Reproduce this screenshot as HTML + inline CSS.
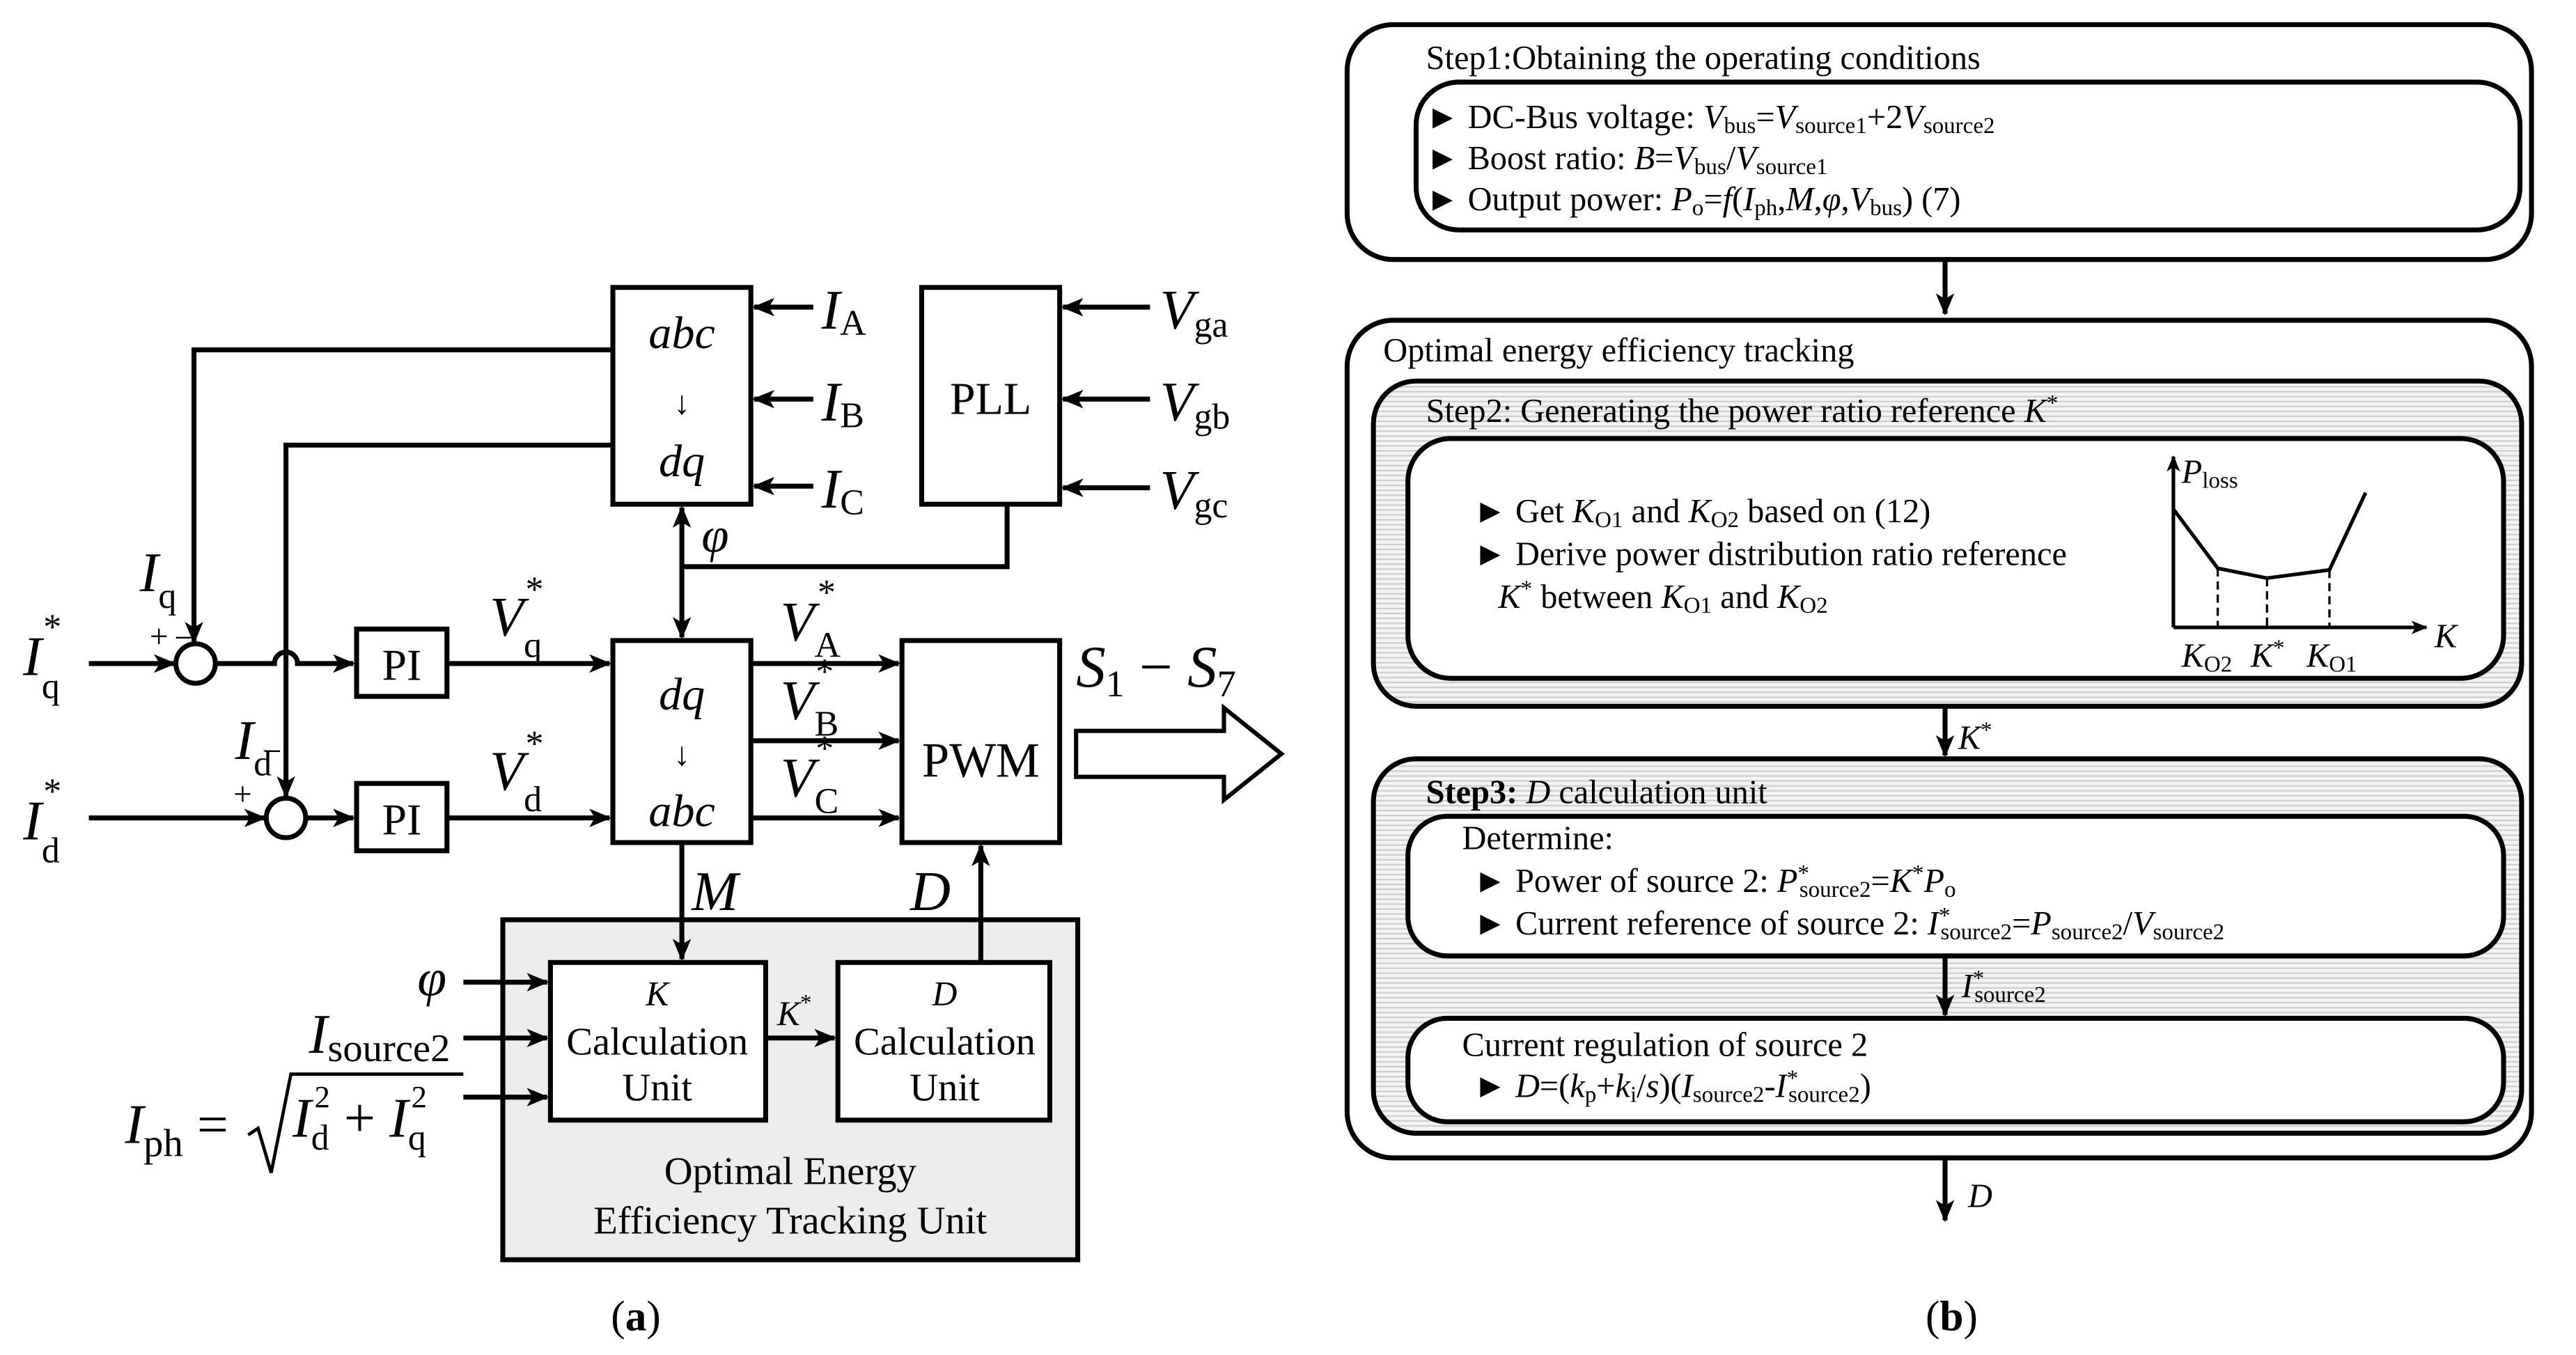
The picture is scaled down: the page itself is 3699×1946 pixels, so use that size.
<!DOCTYPE html>
<html><head><meta charset="utf-8"><style>
html,body{margin:0;padding:0;background:#fff;}
svg{display:block;}
svg text{font-family:"Liberation Serif","Noto Serif CJK SC","DejaVu Serif",serif;fill:#000;}
.i{font-style:italic;}
</style></head><body>
<svg width="3699" height="1946" viewBox="0 0 1568 825" xmlns="http://www.w3.org/2000/svg" font-family="Liberation Serif, Noto Serif CJK SC, DejaVu Serif, serif">
<defs>
<marker id="ah" viewBox="0 0 12 10" refX="11" refY="5" markerWidth="4.5" markerHeight="4.2" orient="auto-start-reverse"><path d="M0,0 L12,5 L0,10 L3,5 z" fill="#000"/></marker>
<pattern id="hat" width="4" height="3" patternUnits="userSpaceOnUse"><rect width="4" height="3" fill="#f4f4f4"/><rect width="4" height="1" y="1" fill="#cfcfcf"/></pattern>
</defs>
<g stroke="#000" stroke-width="3" fill="none">
<rect x="373" y="175" width="84" height="132" fill="#fff"/>
<rect x="561" y="175" width="84" height="132" fill="#fff"/>
<rect x="373" y="390" width="84" height="123" fill="#fff"/>
<rect x="549" y="390" width="96" height="123" fill="#fff"/>
<rect x="217" y="383" width="55" height="41" fill="#fff"/>
<rect x="217" y="477" width="55" height="41" fill="#fff"/>
<rect x="306" y="560" width="350" height="207" fill="#ececec"/>
<rect x="335" y="586" width="131" height="96" fill="#fff"/>
<rect x="510" y="586" width="129" height="96" fill="#fff"/>
<circle cx="119" cy="404" r="12" fill="#fff"/>
<circle cx="174" cy="498" r="12" fill="#fff"/>
<line x1="495" y1="187" x2="459" y2="187" marker-end="url(#ah)"/>
<line x1="495" y1="243" x2="459" y2="243" marker-end="url(#ah)"/>
<line x1="495" y1="296" x2="459" y2="296" marker-end="url(#ah)"/>
<line x1="700" y1="187" x2="647" y2="187" marker-end="url(#ah)"/>
<line x1="700" y1="243" x2="647" y2="243" marker-end="url(#ah)"/>
<line x1="700" y1="297" x2="647" y2="297" marker-end="url(#ah)"/>
<polyline points="613,307 613,345 415,345"/>
<line x1="415" y1="309" x2="415" y2="388" marker-start="url(#ah)" marker-end="url(#ah)"/>
<polyline points="373,213 118,213 118,391" marker-end="url(#ah)"/>
<polyline points="373,271 174,271 174,485" marker-end="url(#ah)"/>
<line x1="54" y1="404" x2="106" y2="404" marker-end="url(#ah)"/>
<path d="M131,404 L167,404 A7,7 0 0 1 181,404 L215,404" marker-end="url(#ah)"/>
<line x1="272" y1="404" x2="371" y2="404" marker-end="url(#ah)"/>
<line x1="54" y1="498" x2="161" y2="498" marker-end="url(#ah)"/>
<line x1="186" y1="498" x2="215" y2="498" marker-end="url(#ah)"/>
<line x1="272" y1="498" x2="371" y2="498" marker-end="url(#ah)"/>
<line x1="457" y1="404" x2="547" y2="404" marker-end="url(#ah)"/>
<line x1="457" y1="451" x2="547" y2="451" marker-end="url(#ah)"/>
<line x1="457" y1="498" x2="547" y2="498" marker-end="url(#ah)"/>
<polygon points="655,445 745,445 745,431 780,459 745,487 745,473 655,473" fill="#fff" stroke-width="2.6"/>
<line x1="415" y1="513" x2="415" y2="584" marker-end="url(#ah)"/>
<line x1="597" y1="586" x2="597" y2="515" marker-end="url(#ah)"/>
<line x1="466" y1="632" x2="508" y2="632" marker-end="url(#ah)"/>
<line x1="282" y1="598" x2="333" y2="598" marker-end="url(#ah)"/>
<line x1="282" y1="632" x2="333" y2="632" marker-end="url(#ah)"/>
<line x1="282" y1="668" x2="333" y2="668" marker-end="url(#ah)"/>
<polyline points="151,691 157,687 165,714 177,654 282,654" stroke-width="2"/>

<rect x="820" y="15" width="721" height="143" rx="28"/>
<rect x="862" y="50" width="672" height="90" rx="26" fill="#fff"/>
<line x1="1184" y1="158" x2="1184" y2="191" marker-end="url(#ah)"/>
<rect x="820" y="195" width="721" height="510" rx="28"/>
<rect x="836" y="232" width="699" height="198" rx="26" fill="url(#hat)"/>
<rect x="857" y="267" width="667" height="146" rx="26" fill="#fff"/>
<line x1="1184" y1="430" x2="1184" y2="460" marker-end="url(#ah)"/>
<rect x="836" y="462" width="699" height="228" rx="26" fill="url(#hat)"/>
<rect x="857" y="497" width="667" height="85" rx="24" fill="#fff"/>
<line x1="1184" y1="582" x2="1184" y2="618" marker-end="url(#ah)"/>
<rect x="857" y="620" width="667" height="63" rx="24" fill="#fff"/>
<line x1="1184" y1="705" x2="1184" y2="743" marker-end="url(#ah)"/>
<line x1="1323" y1="382" x2="1323" y2="278" marker-end="url(#ah)" stroke-width="2.2"/>
<line x1="1323" y1="382" x2="1477" y2="382" marker-end="url(#ah)" stroke-width="2.2"/>
<polyline points="1323,310 1350,346 1380,352 1418,347 1440,300" stroke-width="2.2"/>
<g stroke-dasharray="5,3" stroke-width="1.4">
<line x1="1350" y1="346" x2="1350" y2="382"/><line x1="1380" y1="352" x2="1380" y2="382"/><line x1="1418" y1="347" x2="1418" y2="382"/>
</g>
</g>

<g font-size="28" text-anchor="middle">
<text x="415" y="212" class="i">abc</text>
<text x="415" y="252" font-size="20">↓</text>
<text x="415" y="290" class="i">dq</text>
<text x="603" y="252">PLL</text>
<text x="415" y="432" class="i">dq</text>
<text x="415" y="466" font-size="20">↓</text>
<text x="415" y="503" class="i">abc</text>
<text x="597" y="473" font-size="30">PWM</text>
<text x="244.5" y="414" font-size="27">PI</text>
<text x="244.5" y="508" font-size="27">PI</text>
</g>
<g font-size="34">
<text x="500" y="200" class="i">I<tspan font-size="22" font-style="normal" dy="4">A</tspan></text>
<text x="500" y="256" class="i">I<tspan font-size="22" font-style="normal" dy="4">B</tspan></text>
<text x="500" y="309" class="i">I<tspan font-size="22" font-style="normal" dy="4">C</tspan></text>
<text x="706" y="200" class="i">V<tspan font-size="22" font-style="normal" dy="5">ga</tspan></text>
<text x="706" y="256" class="i">V<tspan font-size="22" font-style="normal" dy="5">gb</tspan></text>
<text x="706" y="310" class="i">V<tspan font-size="22" font-style="normal" dy="5">gc</tspan></text>
<text x="427" y="336" class="i" font-size="30">φ</text>
<text x="85" y="360" class="i">I<tspan font-size="22" font-style="normal" dy="10">q</tspan></text>
<text x="143" y="462" class="i">I<tspan font-size="22" font-style="normal" dy="10">d</tspan></text>
<text x="14" y="411" class="i">I<tspan font-size="22" font-style="normal" dy="14">q</tspan><tspan font-size="22" font-style="normal" dx="-10" dy="-36">*</tspan></text>
<text x="14" y="511" class="i">I<tspan font-size="22" font-style="normal" dy="14">d</tspan><tspan font-size="22" font-style="normal" dx="-10" dy="-36">*</tspan></text>
<text x="298" y="387" class="i">V<tspan font-size="22" font-style="normal" dy="13">q</tspan><tspan font-size="22" font-style="normal" dx="-10" dy="-34">*</tspan></text>
<text x="298" y="481" class="i">V<tspan font-size="22" font-style="normal" dy="13">d</tspan><tspan font-size="22" font-style="normal" dx="-10" dy="-34">*</tspan></text>
<text x="475" y="390" class="i">V<tspan font-size="22" font-style="normal" dy="10">A</tspan><tspan font-size="22" font-style="normal" dx="-14" dy="-32">*</tspan></text>
<text x="475" y="438" class="i">V<tspan font-size="22" font-style="normal" dy="10">B</tspan><tspan font-size="22" font-style="normal" dx="-14" dy="-32">*</tspan></text>
<text x="475" y="485" class="i">V<tspan font-size="22" font-style="normal" dy="10">C</tspan><tspan font-size="22" font-style="normal" dx="-14" dy="-32">*</tspan></text>
<text x="655" y="418" class="i" font-size="36">S<tspan font-size="23" font-style="normal" dy="6">1</tspan><tspan dy="-6" font-style="normal"> − </tspan>S<tspan font-size="23" font-style="normal" dy="6">7</tspan></text>
<text x="421" y="554" class="i">M</text>
<text x="554" y="554" class="i">D</text>
<text x="254" y="606" class="i" font-size="32">φ</text>
<text x="188" y="641" class="i">I<tspan font-size="24" font-style="normal" dy="5">source2</tspan></text>
<text x="76" y="696" class="i">I<tspan font-size="24" font-style="normal" dy="8">ph</tspan><tspan font-style="normal" dy="-8"> = </tspan></text>
<text x="178" y="692" class="i">I<tspan font-size="22" font-style="normal" dy="8">d</tspan><tspan font-size="19" font-style="normal" dx="-9" dy="-26">2</tspan><tspan font-style="normal" dy="18"> + </tspan>I<tspan font-size="22" font-style="normal" dy="8">q</tspan><tspan font-size="19" font-style="normal" dx="-9" dy="-26">2</tspan></text>
</g>
<text x="91" y="394" font-size="20">+</text>
<text x="106" y="395" font-size="20">−</text>
<text x="142" y="490" font-size="20">+</text>
<text x="160" y="464" font-size="20">−</text>
<g font-size="24" text-anchor="middle">
<text x="400" y="612" class="i" font-size="21">K</text>
<text x="400" y="642">Calculation</text>
<text x="400" y="670">Unit</text>
<text x="575" y="612" class="i" font-size="21">D</text>
<text x="575" y="642">Calculation</text>
<text x="575" y="670">Unit</text>
<text x="481" y="721">Optimal Energy</text>
<text x="481" y="751">Efficiency Tracking Unit</text>
<text x="387" y="810" font-size="26">(<tspan font-weight="bold">a</tspan>)</text>
<text x="1188" y="810" font-size="26">(<tspan font-weight="bold">b</tspan>)</text>
</g>
<text x="473" y="624" font-size="21" class="i">K<tspan font-size="14" dy="-9" font-style="normal">*</tspan></text>

<g font-size="20.5">
<text x="868" y="42">Step1:Obtaining the operating conditions</text>
<text x="868" y="78">► DC-Bus voltage: <tspan class="i">V</tspan><tspan font-size="14" dy="3">bus</tspan><tspan dy="-3">=</tspan><tspan class="i">V</tspan><tspan font-size="14" dy="3">source1</tspan><tspan dy="-3">+2</tspan><tspan class="i">V</tspan><tspan font-size="14" dy="3">source2</tspan></text>
<text x="868" y="103">► Boost ratio: <tspan class="i">B</tspan>=<tspan class="i">V</tspan><tspan font-size="14" dy="3">bus</tspan><tspan dy="-3">/</tspan><tspan class="i">V</tspan><tspan font-size="14" dy="3">source1</tspan></text>
<text x="868" y="128">► Output power: <tspan class="i">P</tspan><tspan font-size="14" dy="3">o</tspan><tspan dy="-3">=</tspan><tspan class="i">f</tspan>(<tspan class="i">I</tspan><tspan font-size="14" dy="3">ph</tspan><tspan dy="-3">,</tspan><tspan class="i">M</tspan>,<tspan class="i">φ</tspan>,<tspan class="i">V</tspan><tspan font-size="14" dy="3">bus</tspan><tspan dy="-3">) (7)</tspan></text>
<text x="842" y="220">Optimal energy efficiency tracking</text>
<text x="868" y="257">Step2: Generating the power ratio reference <tspan class="i">K</tspan><tspan font-size="14" dy="-7">*</tspan></text>
<text x="897" y="318">► Get <tspan class="i">K</tspan><tspan font-size="14" dy="3">O1</tspan><tspan dy="-3"> and </tspan><tspan class="i">K</tspan><tspan font-size="14" dy="3">O2</tspan><tspan dy="-3"> based on (12)</tspan></text>
<text x="897" y="344">► Derive power distribution ratio reference</text>
<text x="912" y="370"><tspan class="i">K</tspan><tspan font-size="14" dy="-7">*</tspan><tspan dy="7"> between </tspan><tspan class="i">K</tspan><tspan font-size="14" dy="3">O1</tspan><tspan dy="-3"> and </tspan><tspan class="i">K</tspan><tspan font-size="14" dy="3">O2</tspan></text>
<text x="1328" y="294" class="i">P<tspan font-size="14" dy="3" font-style="normal">loss</tspan></text>
<text x="1328" y="406" class="i">K<tspan font-size="14" dy="3" font-style="normal">O2</tspan></text>
<text x="1370" y="406" class="i">K<tspan font-size="14" dy="-7" font-style="normal">*</tspan></text>
<text x="1404" y="406" class="i">K<tspan font-size="14" dy="3" font-style="normal">O1</tspan></text>
<text x="1482" y="394" class="i">K</text>
<text x="1192" y="456" class="i">K<tspan font-size="14" dy="-7" font-style="normal">*</tspan></text>
<text x="868" y="489"><tspan font-weight="bold">Step3: </tspan><tspan class="i">D</tspan> calculation unit</text>
<text x="890" y="517">Determine:</text>
<text x="897" y="543">► Power of source 2: <tspan class="i">P</tspan><tspan font-size="14" dy="-7">*</tspan><tspan font-size="14" dx="-6" dy="10">source2</tspan><tspan dy="-3">=</tspan><tspan class="i">K</tspan><tspan font-size="14" dy="-7">*</tspan><tspan class="i" dy="7">P</tspan><tspan font-size="14" dy="3">o</tspan></text>
<text x="897" y="569">► Current reference of source 2: <tspan class="i">I</tspan><tspan font-size="14" dy="-7">*</tspan><tspan font-size="14" dx="-6" dy="10">source2</tspan><tspan dy="-3">=</tspan><tspan class="i">P</tspan><tspan font-size="14" dy="3">source2</tspan><tspan dy="-3">/</tspan><tspan class="i">V</tspan><tspan font-size="14" dy="3">source2</tspan></text>
<text x="1194" y="607" class="i">I<tspan font-size="14" dy="-7" font-style="normal">*</tspan><tspan font-size="14" dx="-6" dy="10" font-style="normal">source2</tspan></text>
<text x="890" y="643">Current regulation of source 2</text>
<text x="897" y="668">► <tspan class="i">D</tspan>=(<tspan class="i">k</tspan><tspan font-size="14" dy="3">p</tspan><tspan dy="-3">+</tspan><tspan class="i">k</tspan><tspan font-size="14" dy="3">i</tspan><tspan dy="-3">/</tspan><tspan class="i">s</tspan>)(<tspan class="i">I</tspan><tspan font-size="14" dy="3">source2</tspan><tspan dy="-3">-</tspan><tspan class="i">I</tspan><tspan font-size="14" dy="-7">*</tspan><tspan font-size="14" dx="-6" dy="10">source2</tspan><tspan dy="-3">)</tspan></text>
<text x="1198" y="735" class="i">D</text>
</g>
</svg>
</body></html>
